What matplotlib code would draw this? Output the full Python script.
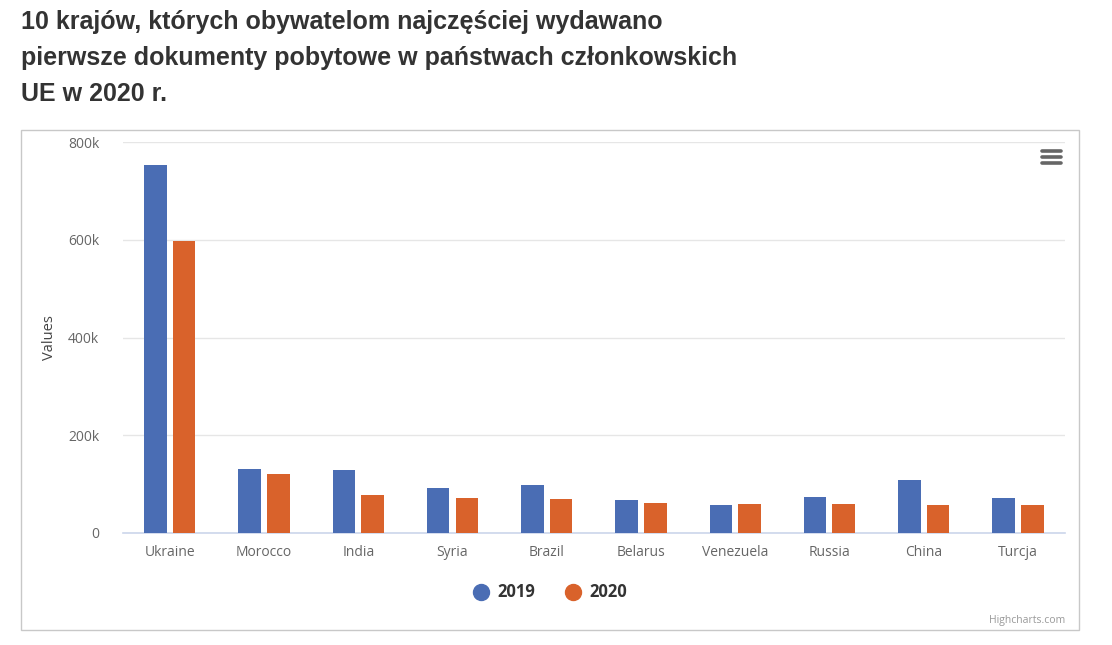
import matplotlib
matplotlib.use("Agg")
import matplotlib.pyplot as plt
from matplotlib.patches import Rectangle
from matplotlib.lines import Line2D
import numpy as np

categories = ["Ukraine", "Morocco", "India", "Syria", "Brazil", "Belarus",
              "Venezuela", "Russia", "China", "Turcja"]
values_2019 = [753000, 131000, 128500, 92000, 97000, 66000, 56000, 74000, 107000, 72000]
values_2020 = [598000, 121000, 77000, 72000, 69000, 61500, 58600, 58600, 56000, 56000]
series_names = ["2019", "2020"]
yticks = [0, 200000, 400000, 600000, 800000]
ytick_labels = ["0", "200k", "400k", "600k", "800k"]

title = ("10 krajów, których obywatelom najczęściej wydawano\n"
         "pierwsze dokumenty pobytowe w państwach członkowskich\n"
         "UE w 2020 r.")

blue = "#4a6db4"
orange = "#d9622b"

W, H = 1112, 645
fig = plt.figure(figsize=(W / 100, H / 100), dpi=100)
fig.patch.set_facecolor("white")

# outer chart box
fig.patches.append(Rectangle((21 / W, 1 - 630 / H), (1079 - 21) / W, (630 - 130) / H,
                             transform=fig.transFigure, fill=False,
                             edgecolor="#c8c8c8", linewidth=1.0))

# title
fig.text(21 / W, 1 - 10 / H, title, ha="left", va="top",
         fontsize=18, fontweight="bold", color="#333333",
         family=["Liberation Sans", "DejaVu Sans"], linespacing=1.63)

ax = fig.add_axes([122.7 / W, 1 - 532.7 / H, (1065 - 122.7) / W, (532.7 - 142.3) / H])
x = np.arange(len(categories))
bw = 0.24
off = 0.152
ax.bar(x - off, values_2019, width=bw, color=blue, zorder=3)
ax.bar(x + off, values_2020, width=bw, color=orange, zorder=3)

ax.set_xlim(-0.5, len(categories) - 0.5)
ax.set_ylim(0, 800000)
ax.set_yticks(yticks)
ax.set_yticklabels(ytick_labels)
ax.set_xticks(x)
ax.set_xticklabels(categories)
ax.grid(axis="y", color="#e6e6e6", linewidth=1, zorder=0)
for s in ["top", "right", "left"]:
    ax.spines[s].set_visible(False)
ax.spines["bottom"].set_color("#ccd6eb")
ax.spines["bottom"].set_linewidth(1.2)
ax.tick_params(axis="y", length=0, pad=17, labelsize=10, labelcolor="#666666")
ax.tick_params(axis="x", length=0, pad=9, labelsize=10, labelcolor="#666666")
for lab in ax.get_xticklabels() + ax.get_yticklabels():
    lab.set_family(["Open Sans", "DejaVu Sans"])
ax.set_ylabel("Values", fontsize=10.5, color="#444444", family=["Open Sans", "DejaVu Sans"])
ax.yaxis.set_label_coords(-66 / (1065 - 122.7), 0.5)

# legend
leg_y = 1 - 592 / H
for cx, tx, col, name in [(481, 497, blue, series_names[0]), (573, 589, orange, series_names[1])]:
    fig.add_artist(Line2D([cx / W], [leg_y], marker="o", markersize=11.5,
                          color=col, transform=fig.transFigure, linestyle="none"))
    fig.text(tx / W, leg_y, name, ha="left", va="center", fontsize=12,
             fontweight="bold", color="#333333", family=["Open Sans", "DejaVu Sans"])

# menu icon
for yy in [150.5, 156.5, 162.5]:
    fig.add_artist(Line2D([1042 / W, 1061 / W], [1 - yy / H, 1 - yy / H],
                          color="#666666", linewidth=2.6,
                          solid_capstyle="round", transform=fig.transFigure))

# credit
fig.text(1065 / W, 1 - 620 / H, "Highcharts.com", ha="right", va="center",
         fontsize=7.5, color="#999999", family=["Open Sans", "DejaVu Sans"])

fig.savefig("out.png", dpi=100, facecolor="white")
